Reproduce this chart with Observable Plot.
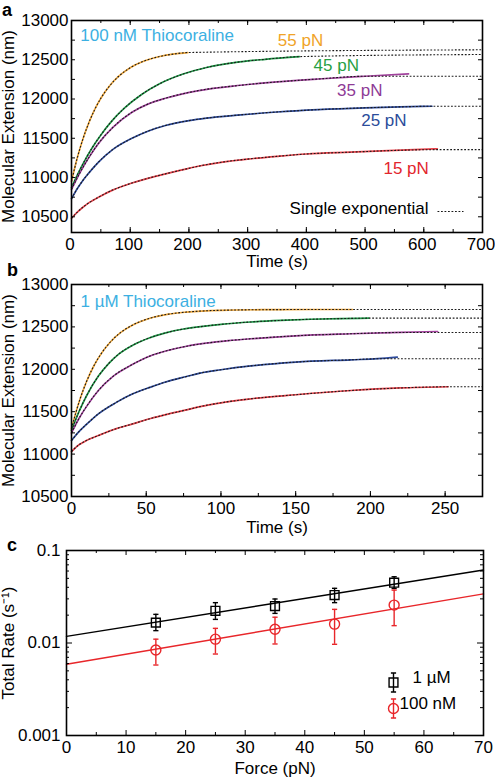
<!DOCTYPE html>
<html><head><meta charset="utf-8">
<script src="https://cdn.jsdelivr.net/npm/d3@7"></script>
<script src="https://cdn.jsdelivr.net/npm/@observablehq/plot@0.6"></script>
<style>
html,body{margin:0;padding:0;background:#fff;}
#fig{position:relative;width:495px;height:780px;overflow:hidden;font-family:"Liberation Sans",Arial,Helvetica,sans-serif;}
</style></head>
<body><div id="fig"></div>
<script>
// ---------------- data ----------------
const forceLabels = ["55 pN", "45 pN", "35 pN", "25 pN", "15 pN"];
const lineColors = ["#f2a93b", "#1f9a48", "#a1419c", "#2e4b9c", "#e8424a"];
const textColors = ["#f0a328", "#27a043", "#8e3b96", "#2b4c9a", "#e2262d"];

// panel a: 100 nM Thiocoraline — [time (s), extension (nm)]
const a55 = [[0,10950],[10,11254],[20,11503],[30,11706],[40,11873],[50,12009],[65,12168],[80,12287],[100,12399],[125,12487],[150,12541],[175,12574],[198,12592]];
const a45 = [[0,10870],[10,11033],[20,11180],[35,11376],[50,11542],[70,11731],[90,11883],[120,12061],[150,12194],[190,12318],[230,12401],[280,12467],[330,12506],[388,12540]];
const a35 = [[0,10850],[15,11070],[30,11260],[46,11435],[70,11635],[103,11832],[130,11935],[160,12010],[217,12108],[288,12175],[350,12218],[420,12255],[500,12290],[574,12320]];
const a25 = [[0,10730],[10,10860],[20,10970],[30,11062],[46,11196],[70,11355],[103,11500],[130,11590],[160,11663],[200,11725],[230,11757],[288,11798],[350,11835],[420,11865],[500,11888],[560,11900],[614,11908]];
const a15 = [[0,10482],[10,10560],[20,10625],[30,10680],[46,10750],[70,10840],[103,10930],[130,10990],[160,11047],[190,11100],[220,11150],[260,11200],[300,11235],[350,11270],[400,11300],[475,11323],[550,11345],[623,11366]];
const aPlateau = [12627, 12567, 12290, 11908, 11355];

// panel b: 1 µM Thiocoraline
const b55 = [[0,11300],[3,11495],[6,11664],[10,11853],[15,12042],[20,12188],[26,12322],[33,12435],[41,12523],[53,12605],[65,12651],[77,12675],[100,12696],[130,12703],[160,12705],[188,12705]];
const b45 = [[0,11280],[5,11500],[10,11685],[18,11920],[25,12070],[32,12185],[41,12285],[52,12370],[63,12430],[75,12475],[85,12500],[100,12530],[120,12558],[140,12577],[160,12590],[180,12598],[199,12603]];
const b35 = [[0,11250],[5,11420],[10,11560],[18,11750],[28,11920],[40,12050],[53,12160],[65,12225],[77,12272],[90,12308],[105,12338],[120,12360],[150,12395],[187,12419],[220,12436],[245,12446]];
const b25 = [[0,11160],[5,11265],[10,11350],[18,11475],[30,11610],[41,11711],[53,11790],[63,11850],[77,11915],[86,11955],[100,11995],[120,12040],[150,12085],[187,12112],[205,12125],[218,12143]];
const b15 = [[0,11030],[5,11110],[10,11160],[18,11219],[30,11300],[41,11357],[53,11420],[63,11465],[77,11522],[86,11560],[100,11605],[120,11652],[150,11700],[187,11750],[220,11780],[252,11794]];
const bPlateau = [12705, 12603, 12434, 12124, 11794];

// panel c: total rate vs force
const forceC = [15, 25, 35, 45, 55];
const rate1uM = [0.0166, 0.0223, 0.0251, 0.0330, 0.0449];
const err1uMLow = [0.0136, 0.0180, 0.0209, 0.0273, 0.0389];
const err1uMHigh = [0.0204, 0.0273, 0.0299, 0.0390, 0.0520];
const rate100nM = [0.0084, 0.0110, 0.0141, 0.0160, 0.0257];
const err100nMLow = [0.00578, 0.0076, 0.00976, 0.00968, 0.0154];
const err100nMHigh = [0.0110, 0.0144, 0.0190, 0.0231, 0.0373];
const fit1uM = [[0, 0.0118], [70, 0.0615]];
const fit100nM = [[0, 0.0059], [70, 0.034]];

// annotation placement (data units)
const aLabelT = [390, 451, 491, 532, 570];
const aLabelV = [12745, 12427, 12108, 11726, 11115];

// ---------------- drawing ----------------
const W = 495;
const FONT = '"Liberation Sans", Arial, Helvetica, sans-serif';
const fig = document.getElementById("fig");
const capSym = {draw(c){ c.moveTo(-2.6,0); c.lineTo(2.6,0); }};
const segSym = {draw(c){ c.moveTo(-13,0); c.lineTo(13,0); }};
const errSym = {draw(c){ c.moveTo(0,-9.5); c.lineTo(0,9.5); c.moveTo(-2.6,-9.5); c.lineTo(2.6,-9.5); c.moveTo(-2.6,9.5); c.lineTo(2.6,9.5); }};

function place(node, top) {
  node.style.position = "absolute";
  node.style.left = "0px";
  node.style.top = top + "px";
  fig.appendChild(node);
}

function extPanel(cfg) {
  const ml = 71, mr = 13;
  const fh = cfg.height - cfg.marginTop - cfg.marginBottom;
  const fw = W - ml - mr;
  const xMaj = d3.range(0, cfg.xMax + 1e-9, cfg.xStep);
  const xMin = d3.range(0, cfg.xMax + 1e-9, cfg.xMinorStep);
  const yMaj = d3.range(10500, 13001, 500);
  const yMin = d3.range(10500, 13001, 250);
  const marks = [];
  cfg.series.forEach((s, i) => marks.push(Plot.line(s, {x: d => d[0], y: d => d[1], stroke: lineColors[i], strokeWidth: 1.7, curve: "monotone-x"})));
  cfg.series.forEach((s, i) => {
    const P = cfg.plateaus[i];
    const fit = s.map(([t, v]) => [t, Math.min(v, P)]).concat([[cfg.xMax, P]]);
    marks.push(Plot.line(fit, {x: d => d[0], y: d => d[1], stroke: "#1a1a1a", strokeWidth: 1.1, strokeDasharray: "1.8,1.7", strokeLinecap: "butt", curve: "monotone-x"}));
  });
  marks.push(
    Plot.ruleX(xMin, {insetTop: fh - 3, stroke: "#000"}),
    Plot.ruleX(xMin, {insetBottom: fh - 3, stroke: "#000"}),
    Plot.ruleX(xMaj, {insetTop: fh - 5, stroke: "#000"}),
    Plot.ruleX(xMaj, {insetBottom: fh - 5, stroke: "#000"}),
    Plot.ruleY(yMin, {insetLeft: fw - 4, stroke: "#000"}),
    Plot.ruleY(yMin, {insetRight: fw - 4, stroke: "#000"}),
    Plot.frame({stroke: "#000", strokeWidth: 1.6}),
    Plot.axisX(xMaj, {tickSize: 0, tickPadding: cfg.xPad, dx: cfg.xDx, tickFormat: d => String(d), label: null}),
    Plot.axisX({tickSize: 0, ticks: [], label: "Time (s)", labelAnchor: "center", labelOffset: cfg.labelOffset, labelArrow: "none"}),
    Plot.axisY(yMaj, {tickSize: 0, tickPadding: 3, tickFormat: d => String(d), label: "Molecular Extension (nm)", labelAnchor: "center", labelOffset: 70, labelArrow: "none"})
  );
  marks.push(...cfg.extra);
  return Plot.plot({
    width: W, height: cfg.height,
    marginLeft: ml, marginRight: mr, marginTop: cfg.marginTop, marginBottom: cfg.marginBottom,
    style: {fontSize: "17px", fontFamily: FONT, color: "#000", background: "transparent", overflow: "visible"},
    x: {domain: [0, cfg.xMax]},
    y: {domain: [cfg.yMinVal, 13000]},
    marks
  });
}

// panel a
const aExtra = [
  Plot.text(["100 nM Thiocoraline"], {x: () => 15, y: () => 12809, text: d => d, textAnchor: "start", fill: "#3cb0e2"}),
  ...forceLabels.map((l, i) => Plot.text([l], {x: () => aLabelT[i], y: () => aLabelV[i], text: d => d, fill: textColors[i]})),
  Plot.text(["Single exponential"], {x: null, y: null, text: d => d, frameAnchor: "bottom-right", dx: -54, dy: -19, textAnchor: "end", fill: "#000"}),
  Plot.dot([0], {x: null, y: null, frameAnchor: "bottom-right", dx: -32, dy: -21, symbol: segSym, fill: "none", stroke: "#1a1a1a", strokeWidth: 1.1, strokeDasharray: "1.8,1.7"})
];
place(extPanel({series: [a55, a45, a35, a25, a15], plateaus: aPlateau, xMax: 700, xStep: 100, xMinorStep: 50,
  height: 273, marginTop: 20, marginBottom: 41, xPad: 5, xDx: -1.5, labelOffset: 34, yMinVal: 10300, extra: aExtra}), 0);

// panel b
const bExtra = [
  Plot.text(["1 µM Thiocoraline"], {x: () => 6, y: () => 12800, text: d => d, textAnchor: "start", fill: "#3cb0e2"})
];
place(extPanel({series: [b55, b45, b35, b25, b15], plateaus: bPlateau, xMax: 275, xStep: 50, xMinorStep: 25,
  height: 272, marginTop: 19, marginBottom: 41, xPad: 5, xDx: 0, labelOffset: 36, yMinVal: 10500, extra: bExtra}), 265);

// panel c
(function () {
  const ml = 66, mr = 12, mt = 21, mb = 45, H = 251;
  const fh = H - mt - mb, fw = W - ml - mr;
  const xMaj = d3.range(0, 71, 10);
  const xMin = d3.range(5, 70, 10);
  const yMaj = [0.001, 0.01, 0.1];
  const yMin = [2,3,4,5,6,7,8,9].flatMap(k => [k * 0.001, k * 0.01]);
  const idx = d3.range(forceC.length);
  const black = "#000", red = "#e8262a";
  const marks = [
    Plot.line(fit1uM, {x: d => d[0], y: d => d[1], stroke: black, strokeWidth: 1.4}),
    Plot.line(fit100nM, {x: d => d[0], y: d => d[1], stroke: red, strokeWidth: 1.4}),
    Plot.ruleX(idx, {x: i => forceC[i], y1: i => err1uMLow[i], y2: i => err1uMHigh[i], stroke: black, strokeWidth: 1.4}),
    Plot.dot(idx, {x: i => forceC[i], y: i => err1uMLow[i], symbol: capSym, fill: "none", stroke: black, strokeWidth: 1.4}),
    Plot.dot(idx, {x: i => forceC[i], y: i => err1uMHigh[i], symbol: capSym, fill: "none", stroke: black, strokeWidth: 1.4}),
    Plot.dot(idx, {x: i => forceC[i], y: i => rate1uM[i], symbol: "square", r: 5, fill: "none", stroke: black, strokeWidth: 1.4}),
    Plot.ruleX(idx, {x: i => forceC[i], y1: i => err100nMLow[i], y2: i => err100nMHigh[i], stroke: red, strokeWidth: 1.4}),
    Plot.dot(idx, {x: i => forceC[i], y: i => err100nMLow[i], symbol: capSym, fill: "none", stroke: red, strokeWidth: 1.4}),
    Plot.dot(idx, {x: i => forceC[i], y: i => err100nMHigh[i], symbol: capSym, fill: "none", stroke: red, strokeWidth: 1.4}),
    Plot.dot(idx, {x: i => forceC[i], y: i => rate100nM[i], symbol: "circle", r: 5, fill: "none", stroke: red, strokeWidth: 1.4}),
    Plot.ruleX(xMin, {insetTop: fh - 3}), Plot.ruleX(xMin, {insetBottom: fh - 3}),
    Plot.ruleX(xMaj, {insetTop: fh - 5}), Plot.ruleX(xMaj, {insetBottom: fh - 5}),
    Plot.ruleY(yMin, {insetLeft: fw - 3}), Plot.ruleY(yMin, {insetRight: fw - 3}),
    Plot.ruleY(yMaj, {insetLeft: fw - 6}), Plot.ruleY(yMaj, {insetRight: fw - 6}),
    Plot.frame({stroke: "#000", strokeWidth: 1.6}),
    Plot.axisX(xMaj, {tickSize: 0, tickPadding: 5, tickFormat: d => String(d), label: "Force (pN)", labelAnchor: "center", labelOffset: 38, labelArrow: "none"}),
    Plot.axisY(yMaj, {tickSize: 0, tickPadding: 6, tickFormat: d => String(d), label: "Total Rate (s⁻¹)", labelAnchor: "center", labelOffset: 65, labelArrow: "none"}),
    // legend
    Plot.dot([0], {x: null, y: null, frameAnchor: "bottom-right", dx: -90, dy: -53, symbol: errSym, fill: "none", stroke: black, strokeWidth: 1.4}),
    Plot.dot([0], {x: null, y: null, frameAnchor: "bottom-right", dx: -90, dy: -53, symbol: "square", r: 5, fill: "none", stroke: black, strokeWidth: 1.4}),
    Plot.text(["1 µM"], {x: null, y: null, text: d => d, frameAnchor: "bottom-right", dx: -71, dy: -53, textAnchor: "start", fill: "#000"}),
    Plot.dot([0], {x: null, y: null, frameAnchor: "bottom-right", dx: -90, dy: -27, symbol: errSym, fill: "none", stroke: red, strokeWidth: 1.4}),
    Plot.dot([0], {x: null, y: null, frameAnchor: "bottom-right", dx: -90, dy: -27, symbol: "circle", r: 5, fill: "none", stroke: red, strokeWidth: 1.4}),
    Plot.text(["100 nM"], {x: null, y: null, text: d => d, frameAnchor: "bottom-right", dx: -84, dy: -27, textAnchor: "start", fill: "#000"})
  ];
  place(Plot.plot({
    width: W, height: H, marginLeft: ml, marginRight: mr, marginTop: mt, marginBottom: mb,
    style: {fontSize: "17px", fontFamily: FONT, color: "#000", background: "transparent", overflow: "visible"},
    x: {domain: [0, 70]},
    y: {type: "log", domain: [0.001, 0.1]},
    marks
  }), 529);
})();

// panel letters
const ns = "http://www.w3.org/2000/svg";
const over = document.createElementNS(ns, "svg");
over.setAttribute("width", W); over.setAttribute("height", 780);
over.style.pointerEvents = "none";
[["a", 2, 16], ["b", 7, 276], ["c", 7, 551]].forEach(([t, x, y]) => {
  const el = document.createElementNS(ns, "text");
  el.setAttribute("x", x); el.setAttribute("y", y);
  el.setAttribute("font-family", FONT);
  el.setAttribute("font-weight", "bold"); el.setAttribute("font-size", "18");
  el.textContent = t;
  over.appendChild(el);
});
place(over, 0);
</script>
</body></html>
